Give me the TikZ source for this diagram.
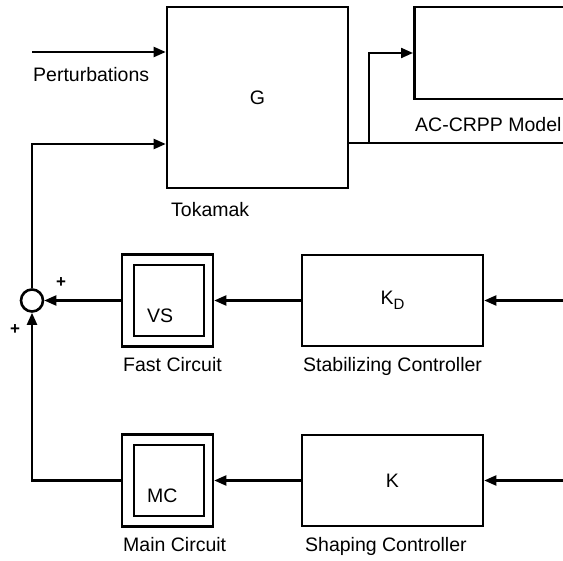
\documentclass[tikz,border=0pt]{standalone}
\usepackage{fontspec}
\setmainfont{Liberation Sans}
\usetikzlibrary{arrows.meta,positioning,calc}

\begin{document}
\begin{tikzpicture}[x=1pt, y=-1pt,
    every node/.style={font=\fontsize{19.5}{22}\selectfont},
    blk/.style={draw, line width=2.6pt, inner sep=0pt},
    capt/.style={anchor=base west, inner sep=0pt},
    sig/.style={line width=2.2pt, -{Triangle[length=12pt,width=10pt]}},
    wire/.style={line width=1.6pt}]
  \useasboundingbox (0,0) rectangle (563,561);
  \clip (0,0) rectangle (563,561);

  % plant and model (top)
  \node[blk, minimum width=181pt, minimum height=181pt] (G) at (257.5,97.5) {G};
  \node[blk, minimum width=200pt, minimum height=92pt, anchor=west] (ac) at (413,53) {};
  \node[capt] (tok) at (171,217) {Tokamak};
  \node[capt] (acl) at (415,132) {AC-CRPP Model};
  \node[capt] (pert) at (33,82) {Perturbations};

  % summing junction
  \node[draw, circle, line width=2.6pt, minimum size=22pt, inner sep=0pt] (sum) at (32,300.5) {};
  \node[font=\fontsize{17}{17}\selectfont\bfseries, inner sep=0pt] (p1) at (61,283) {+};
  \node[font=\fontsize{17}{17}\selectfont\bfseries, inner sep=0pt] (p2) at (15,330) {+};

  % power supply circuits -- double boxes
  \foreach \nm/\y/\txt/\lbl in {fc/300.5/VS/Fast Circuit, mc/480.5/MC/Main Circuit} {
    \node[blk, minimum width=91pt, minimum height=92pt] (\nm) at (167.5,\y) {};
    \node[blk, minimum width=70pt, minimum height=71pt] (\nm i) at (169,\y) {};
    \node[capt] (\nm t) at (147,\y+22) {\txt};
    \node[capt] (\nm c) at (123,\y+71) {\lbl};
  }

  % controllers
  \node[blk, minimum width=181pt, minimum height=91pt] (kd) at (392.5,300.5)
    {K\raisebox{-0.5ex}{\fontsize{15}{15}\selectfont D}};
  \node[blk, minimum width=181pt, minimum height=91pt] (k) at (392.5,480.5) {K};
  \node[capt] (kdc) at (303,372) {Stabilizing Controller};
  \node[capt] (kc) at (305,551) {Shaping Controller};

  % free ends
  \coordinate (pin) at (32,52);
  \coordinate (fb) at (32,144);
  \coordinate (yout) at (563,143);
  \coordinate (br) at (369,143);
  \coordinate (kdin) at (563,300.5);
  \coordinate (kin) at (563,480.5);

  % connections
  \draw[sig] (pin) -- (pin -| G.west);
  \draw[sig] (sum.north) -- (fb) -- (fb -| G.west);
  \draw[wire] (yout -| G.east) -- (yout);
  \draw[sig] (br) |- (ac.west);
  \draw[sig] (kdin) -- (kd.east);
  \draw[sig] (kd.west) -- (fc.east);
  \draw[sig] (fc.west) -- (sum.east);
  \draw[sig] (kin) -- (k.east);
  \draw[sig] (k.west) -- (mc.east);
  \draw[sig] (mc.west) -| (sum.south);
\end{tikzpicture}
\end{document}
